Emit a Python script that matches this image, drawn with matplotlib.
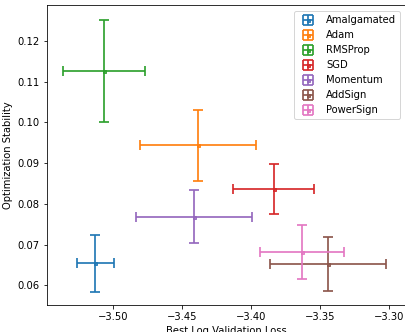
import matplotlib.pyplot as plt

names = ["Amalgamated", "Adam", "RMSProp", "SGD", "Momentum", "AddSign", "PowerSign"]
loss = [-3.5128, -3.4382, -3.5065, -3.3836, -3.4413, -3.3440, -3.3628]
loss_err = [0.0136, 0.0420, 0.0299, 0.0296, 0.0422, 0.0422, 0.0305]
stability = [0.0654, 0.0944, 0.1127, 0.0837, 0.0769, 0.0653, 0.0682]
stability_err = [0.0070, 0.0087, 0.0125, 0.0061, 0.0066, 0.0066, 0.0067]

fig = plt.figure(figsize=(405 / 72, 332 / 72), dpi=72)
ax = fig.add_axes([46.7 / 405, 27 / 332, 359.5 / 405, 300 / 332])

for i, name in enumerate(names):
    ax.errorbar(loss[i], stability[i], xerr=loss_err[i], yerr=stability_err[i],
                fmt="s", markersize=3, capsize=5, elinewidth=2, capthick=2,
                color=f"C{i}", alpha=0.85, label=name)

ax.set_xlim(-3.548, -3.2875)
ax.set_ylim(0.0552, 0.1288)
ax.set_xticks([-3.50, -3.45, -3.40, -3.35, -3.30])
ax.set_yticks([0.06, 0.07, 0.08, 0.09, 0.10, 0.11, 0.12])
ax.set_xlabel("Best Log Validation Loss")
ax.set_ylabel("Optimization Stability")
ax.legend(loc="upper right", borderaxespad=0.6)

fig.savefig("out.png", dpi=72)
